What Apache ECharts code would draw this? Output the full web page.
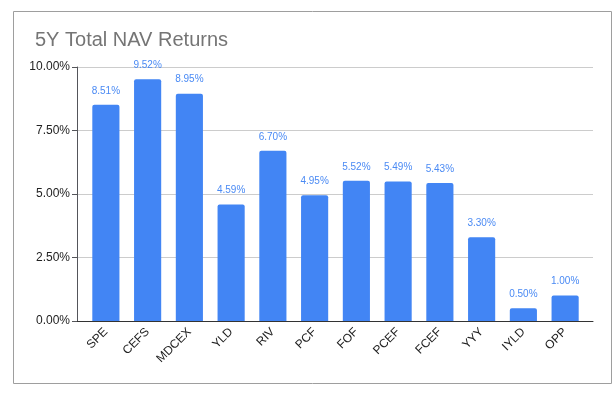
<!DOCTYPE html>
<html>
<head>
<meta charset="utf-8">
<script src="https://cdn.jsdelivr.net/npm/echarts@6/dist/echarts.min.js"></script>
<style>
  html, body { margin: 0; padding: 0; background: #fff; }
  #chart { width: 616px; height: 397px; }
</style>
</head>
<body>
<div id="chart"></div>
<script>
    // fund tickers and 5 year total NAV returns (%)
    var funds = ['SPE', 'CEFS', 'MDCEX', 'YLD', 'RIV', 'PCF', 'FOF', 'PCEF', 'FCEF', 'YYY', 'IYLD', 'OPP'];
    var navReturns = [8.51, 9.52, 8.95, 4.59, 6.70, 4.95, 5.52, 5.49, 5.43, 3.30, 0.50, 1.00];
    var yTicks = [0, 2.5, 5, 7.5, 10];

    var myChart = echarts.init(document.getElementById('chart'));

    var option = {
        animation: false,
        textStyle: { fontFamily: 'Arial, "Liberation Sans", sans-serif' },
        title: {
            text: '5Y Total NAV Returns',
            left: 30,
            top: 25,
            textStyle: { fontSize: 20, fontWeight: 'normal', color: '#757575' }
        },
        graphic: [{
            type: 'rect',
            left: 11,
            top: 9,
            shape: { width: 598, height: 372 },
            style: { fill: 'none', stroke: '#9e9e9e', lineWidth: 1 },
            silent: true
        }],
        // grid 0: gridlines + axis line (wider), grid 1: bars
        grid: [
            { left: 77, right: 23, top: 67, bottom: 76 },
            { left: 85, right: 30, top: 67, bottom: 76 }
        ],
        xAxis: [{
            gridIndex: 0,
            type: 'value',
            min: 0,
            max: 1,
            axisLabel: { show: false },
            axisTick: { show: false },
            splitLine: { show: false },
            axisLine: { show: true, lineStyle: { color: '#333', width: 1 } }
        }, {
            gridIndex: 1,
            type: 'category',
            data: funds,
            axisTick: { show: false },
            axisLine: { show: false },
            axisLabel: { rotate: 45, margin: 9, fontSize: 12, color: '#222' }
        }],
        yAxis: [{
            gridIndex: 0,
            type: 'value',
            min: yTicks[0],
            max: yTicks[yTicks.length - 1],
            interval: yTicks[1] - yTicks[0],
            axisLabel: {
                fontSize: 12,
                color: '#222',
                margin: 7,
                formatter: function (v) { return v.toFixed(2) + '%'; }
            },
            splitLine: { lineStyle: { color: '#cccccc' } }
        }, {
            gridIndex: 1,
            type: 'value',
            min: yTicks[0],
            max: yTicks[yTicks.length - 1],
            show: false
        }],
        series: [{
            type: 'bar',
            xAxisIndex: 1,
            yAxisIndex: 1,
            data: navReturns,
            barCategoryGap: '35%',
            itemStyle: { color: '#4285f4', borderRadius: [2, 2, 0, 0] },
            label: {
                show: true,
                position: 'top',
                distance: 9,
                fontSize: 10,
                color: '#4a8af4',
                formatter: function (p) { return p.value.toFixed(2) + '%'; }
            }
        }]
    };

    myChart.setOption(option);
</script>
</body>
</html>
